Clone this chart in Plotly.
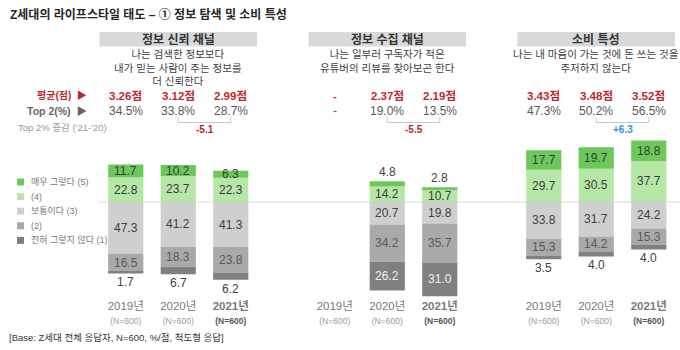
import plotly.graph_objects as go

W, H = 680, 350
FONT = "Liberation Sans, Noto Sans CJK KR"

years = ["2019년", "2020년", "2021년"]
panel_titles = ["정보 신뢰 채널", "정보 수집 채널", "소비 특성"]
panel_questions = [
    "나는 검색한 정보보다<br>내가 믿는 사람이 주는 정보를<br>더 신뢰한다",
    "나는 일부러 구독자가 적은<br>유튜버의 리뷰를 찾아보곤 한다",
    "나는 내 마음이 가는 것에 돈 쓰는 것을<br>주저하지 않는다",
]
legend_names = ["매우 그렇다 (5)", "(4)", "보통이다 (3)", "(2)", "전혀 그렇지 않다 (1)"]

# values per panel, per year (None = no data)
p1_s5 = [11.7, 10.2, 6.3]
p1_s4 = [22.8, 23.7, 22.3]
p1_s3 = [47.3, 41.2, 41.3]
p1_s2 = [16.5, 18.3, 23.8]
p1_s1 = [1.7, 6.7, 6.2]

p2_s5 = [None, 4.8, 2.8]
p2_s4 = [None, 14.2, 10.7]
p2_s3 = [None, 20.7, 19.8]
p2_s2 = [None, 34.2, 35.7]
p2_s1 = [None, 26.2, 31.0]

p3_s5 = [17.7, 19.7, 18.8]
p3_s4 = [29.7, 30.5, 37.7]
p3_s3 = [33.8, 31.7, 24.2]
p3_s2 = [15.3, 14.2, 15.3]
p3_s1 = [3.5, 4.0, 4.0]

p1_mean = [3.26, 3.12, 2.99]
p2_mean = [None, 2.37, 2.19]
p3_mean = [3.43, 3.48, 3.52]
p1_top2 = [34.5, 33.8, 28.7]
p2_top2 = [None, 19.0, 13.5]
p3_top2 = [47.3, 50.2, 56.5]

panels = [
    dict(s=[p1_s5, p1_s4, p1_s3, p1_s2, p1_s1], mean=p1_mean, top2=p1_top2),
    dict(s=[p2_s5, p2_s4, p2_s3, p2_s2, p2_s1], mean=p2_mean, top2=p2_top2),
    dict(s=[p3_s5, p3_s4, p3_s3, p3_s2, p3_s1], mean=p3_mean, top2=p3_top2),
]

colors = ["#6CC85A", "#B7E7A7", "#CFCFCF", "#A9A9A9", "#808080"]
label_colors = ["#3A3A3A", "#3A3A3A", "#404040", "#5A5A5A", "#F2F2F2"]

def py(p):  # pixel y -> paper
    return 1 - p / H

def px(p):
    return p / W

# layout geometry (pixels)
domains = [(99.5, 257.0), (308.5, 466.0), (517.5, 675.0)]
Y_TOP, Y_BOT = 135, 297
BASE = 202
yr_top = (BASE - Y_TOP) / 1.09
yr_bot = -(Y_BOT - BASE) / 1.09

fig = go.Figure()
annotations = []
shapes = []

def ann(**kw):
    kw.setdefault("showarrow", False)
    kw.setdefault("xanchor", "center")
    kw.setdefault("yanchor", "middle")
    annotations.append(kw)

axnames = ["x", "x2", "x3"]
for pi, pan in enumerate(panels):
    xa = axnames[pi]
    s5, s4, s3, s2, s1 = pan["s"]
    # order for relative stacking: below (3,2,1), above (4,5)
    order = [(2, s3, -1), (3, s2, -1), (4, s1, -1), (1, s4, 1), (0, s5, 1)]
    for idx, vals, sign in order:
        fig.add_trace(go.Bar(
            x=years, y=[None if v is None else sign * v for v in vals],
            xaxis=xa, yaxis="y", marker=dict(color=colors[idx], line=dict(width=0)),
            name=legend_names[idx], showlegend=False, textposition="none",
            hoverinfo="skip",
        ))
    # value labels
    for yi, yr in enumerate(years):
        if s5[yi] is None:
            continue
        v5, v4, v3, v2, v1 = s5[yi], s4[yi], s3[yi], s2[yi], s1[yi]
        segs = [
            (0, v4, v4 + v5, v5),
            (1, 0, v4, v4),
            (2, -v3, 0, v3),
            (3, -(v3 + v2), -v3, v2),
            (4, -(v3 + v2 + v1), -(v3 + v2), v1),
        ]
        for idx, lo, hi, v in segs:
            ysh = 0
            col = label_colors[idx]
            yv = (lo + hi) / 2
            if idx == 0 and v < 5:
                yv, ysh, col = hi, 9, "#404040"
            if idx == 4 and v < 7:
                yv, ysh, col = lo, -9, "#404040"
            ann(x=yr, y=yv, xref=xa, yref="y", text=f"{v:.1f}", yshift=ysh,
                font=dict(family=FONT, size=12, color=col))
    # header values
    for yi, yr in enumerate(years):
        m = pan["mean"][yi]
        t = pan["top2"][yi]
        ann(x=yr, y=py(96), xref=xa, yref="paper",
            text="<b>-</b>" if m is None else f"<b>{m:.2f}점</b>",
            font=dict(family=FONT, size=11.5, color="#C0282D"))
        ann(x=yr, y=py(110.5), xref=xa, yref="paper",
            text="-" if t is None else f"{t:.1f}%",
            font=dict(family=FONT, size=12, color="#595959"))
    # delta bracket
    i0, i1 = years.index("2020년"), years.index("2021년")
    delta = pan["top2"][i1] - pan["top2"][i0]
    bcol = "#C8C8C8"
    shapes.append(dict(type="path", xref=xa, yref="paper",
                       path=f"M {i0},{py(117)} L {i0},{py(122.5)} L {i1},{py(122.5)} L {i1},{py(117)}",
                       line=dict(color=bcol, width=1)))
    ann(x=(i0 + i1) / 2, y=py(129.5), xref=xa, yref="paper",
        text=f"<b>{delta:+.1f}</b>",
        font=dict(family=FONT, size=10, color="#C0282D" if delta < 0 else "#3A8FD0"))
    # panel header box
    shapes.append(dict(type="rect", xref=f"{xa} domain", yref="paper",
                       x0=0, x1=1, y0=py(46.5), y1=py(32), fillcolor="#D9D9D9",
                       line=dict(width=0), layer="below"))
    ann(x=0.5, y=py(39.5), xref=f"{xa} domain", yref="paper",
        text=f"<b>{panel_titles[pi]}</b>",
        font=dict(family=FONT, size=12, color="#333333"))
    ann(x=0.5, y=py(45.5), xref=f"{xa} domain", yref="paper", yanchor="top",
        text=panel_questions[pi], align="center",
        font=dict(family=FONT, size=10.5, color="#404040"))

# baseline
shapes.append(dict(type="line", xref="paper", yref="y", x0=px(99), x1=1, y0=0, y1=0,
                   line=dict(color="#D9D9D9", width=1), layer="below"))

# title, row labels, footnote
ann(x=px(8), y=py(15), xref="paper", yref="paper", xanchor="left",
    text="<b>Z세대의 라이프스타일 태도 – ① 정보 탐색 및 소비 특성</b>",
    font=dict(family=FONT, size=12, color="#262626"))
ann(x=px(89), y=py(96), xref="paper", yref="paper", xanchor="right",
    text="<b>평균(점)  ▶</b>", font=dict(family=FONT, size=10, color="#C0282D"))
ann(x=px(89), y=py(110.5), xref="paper", yref="paper", xanchor="right",
    text="<b>Top 2(%)  ▶</b>", font=dict(family=FONT, size=10.5, color="#666666"))
ann(x=px(16), y=py(127), xref="paper", yref="paper", xanchor="left",
    text="Top 2% 증감 ('21-'20)", font=dict(family=FONT, size=9.5, color="#9A9A9A"))
ann(x=px(7), y=py(337), xref="paper", yref="paper", xanchor="left",
    text="[Base: Z세대 전체 응답자, N=600, %/점, 척도형 응답]",
    font=dict(family=FONT, size=9.5, color="#333333"))

# custom legend
for i, nm in enumerate(legend_names):
    yc = 182 + i * 14.6
    shapes.append(dict(type="rect", xref="paper", yref="paper",
                       x0=px(17), x1=px(24), y0=py(yc + 3.5), y1=py(yc - 3.5),
                       fillcolor=colors[i], line=dict(width=0)))
    ann(x=px(29), y=py(yc), xref="paper", yref="paper", xanchor="left", text=nm,
        font=dict(family=FONT, size=9, color="#7A7A7A"))

ticktext = [
    f"{y}<br><span style='font-size:8.5px;color:#9A9A9A'>(N=600)</span>" if y != "2021년"
    else f"<b>{y}</b><br><span style='font-size:8.5px;color:#555555'><b>(N=600)</b></span>"
    for y in years
]

layout = dict(
    width=W, height=H, margin=dict(l=0, r=0, t=0, b=0),
    paper_bgcolor="white", plot_bgcolor="white",
    barmode="relative", bargap=0.33,
    showlegend=False,
    yaxis=dict(domain=[py(Y_BOT), py(Y_TOP)], range=[yr_bot, yr_top], visible=False,
               fixedrange=True),
    annotations=annotations, shapes=shapes,
)
for i, xa in enumerate(axnames):
    key = "xaxis" if i == 0 else f"xaxis{i+1}"
    layout[key] = dict(domain=[px(domains[i][0]), px(domains[i][1])], anchor="y",
                       type="category", categoryorder="array", categoryarray=years,
                       range=[-0.5, 2.5], tickvals=years, ticktext=ticktext,
                       showline=False, showgrid=False, zeroline=False, ticks="",
                       tickfont=dict(family=FONT, size=11.5, color="#7A7A7A"))
fig.update_layout(**layout)

fig.write_html("out.html")
